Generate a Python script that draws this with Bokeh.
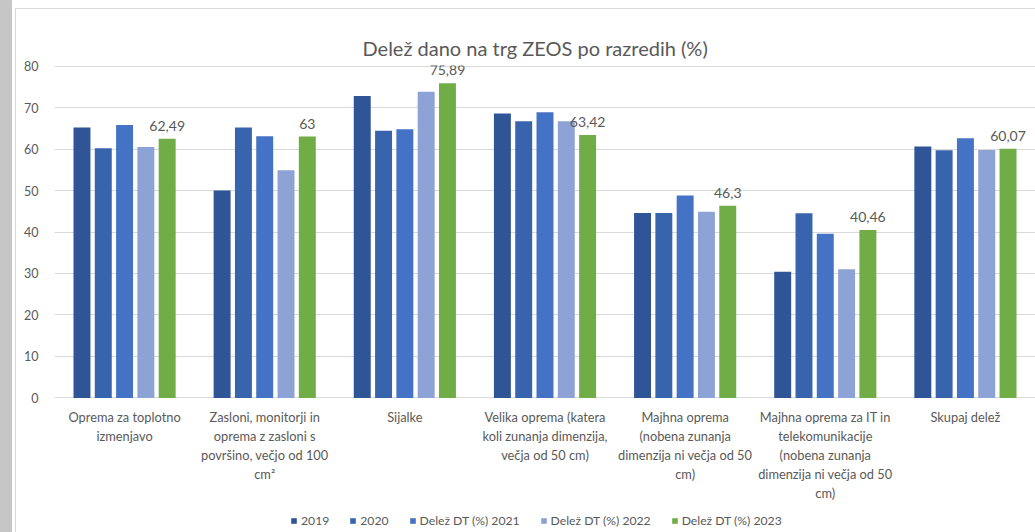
from bokeh.plotting import figure
from bokeh.models import ColumnDataSource, Range1d, FactorRange, LabelSet, Legend, LegendItem, Div, Spacer
from bokeh.layouts import column, row
from bokeh.transform import dodge
from bokeh.core.properties import value
from bokeh.embed import file_html
from bokeh.resources import INLINE

categories = [
    "Oprema za toplotno\nizmenjavo",
    "Zasloni, monitorji in\noprema z zasloni s\npovršino, večjo od 100\ncm²",
    "Sijalke",
    "Velika oprema (katera\nkoli zunanja dimenzija,\nvečja od 50 cm)",
    "Majhna oprema\n(nobena zunanja\ndimenzija ni večja od 50\ncm)",
    "Majhna oprema za IT in\ntelekomunikacije\n(nobena zunanja\ndimenzija ni večja od 50\ncm)",
    "Skupaj delež",
]
series_names = ["2019", "2020", "Delež DT (%) 2021", "Delež DT (%) 2022", "Delež DT (%) 2023"]
v2019 = [65.2, 50.0, 72.8, 68.6, 44.6, 30.4, 60.6]
v2020 = [60.2, 65.2, 64.4, 66.7, 44.6, 44.5, 59.7]
v2021 = [65.8, 63.1, 64.8, 68.9, 48.8, 39.6, 62.6]
v2022 = [60.5, 54.9, 73.8, 66.7, 44.9, 31.0, 59.8]
v2023 = [62.49, 63.0, 75.89, 63.42, 46.3, 40.46, 60.07]
colors = ["#2F5597", "#3864AE", "#4472C4", "#8EA3D5", "#70AD47"]

FONT = "Lato"
GREY = "#595959"

data = dict(cat=categories, v2019=v2019, v2020=v2020, v2021=v2021, v2022=v2022, v2023=v2023,
            lbl=[f"{v:g}".replace(".", ",") for v in v2023])
src = ColumnDataSource(data)

W = 1019
p = figure(width=W, height=501, x_range=FactorRange(factors=categories), y_range=Range1d(-0.15, 80.15),
           output_backend="svg", toolbar_location=None,
           min_border_left=38, min_border_right=0, min_border_top=56, min_border_bottom=112)
p.title.text = "Delež dano na trg ZEOS po razredih (%)"
p.title.align = "left"
p.title.offset = 308
p.title.vertical_align = "middle"
p.title.text_font = FONT
p.title.text_font_size = "20px"
p.title.text_font_style = "normal"
p.title.text_color = GREY
p.title.standoff = 10

pitch = 0.152
width = 0.121
keys = ["v2019", "v2020", "v2021", "v2022", "v2023"]
for i, (k, c) in enumerate(zip(keys, colors)):
    p.vbar(x=dodge("cat", (i - 2) * pitch, range=p.x_range), top=k, width=width, source=src,
           fill_color=c, line_color=None)

labels = LabelSet(x=dodge("cat", 2 * pitch, range=p.x_range), y="v2023", text="lbl", source=src,
                  text_align="center", text_baseline="bottom", y_offset=8,
                  text_font=value(FONT), text_font_size=value("14px"), text_color=value(GREY))
p.add_layout(labels)

p.outline_line_color = None
p.border_fill_color = "white"
p.xgrid.grid_line_color = None
p.ygrid.grid_line_color = "#D9D9D9"
p.ygrid.grid_line_width = 1
p.yaxis.ticker = [0, 10, 20, 30, 40, 50, 60, 70, 80]
p.yaxis.axis_line_color = None
p.yaxis.major_tick_line_color = None
p.yaxis.minor_tick_line_color = None
p.yaxis.major_label_text_font = FONT
p.yaxis.major_label_text_font_size = "12.5px"
p.yaxis.major_label_text_color = GREY
p.yaxis.major_label_standoff = 10

p.xaxis.axis_line_color = None
p.xaxis.major_tick_line_color = None
p.xaxis.major_label_text_font = FONT
p.xaxis.major_label_text_font_size = "12.8px"
p.xaxis.major_label_text_color = GREY
p.xaxis.major_label_standoff = 4

# legend strip (separate small figure so the legend is not clipped)
lp = figure(width=W, height=22, x_range=p.x_range, y_range=Range1d(1000, 1001),
            output_backend="svg", toolbar_location=None,
            min_border_left=0, min_border_right=0, min_border_top=0, min_border_bottom=0)
lp.axis.visible = False
lp.grid.grid_line_color = None
lp.outline_line_color = None
items = []
for i, (k, c, n) in enumerate(zip(keys, colors, series_names)):
    r = lp.vbar(x=dodge("cat", (i - 2) * pitch, range=lp.x_range), top=k, width=width, source=src,
                fill_color=c, line_color=None)
    items.append(LegendItem(label=n, renderers=[r]))
legend = Legend(items=items, orientation="horizontal", location=(236, 4),
                label_text_font=FONT, label_text_font_size="12.2px", label_text_color=GREY,
                glyph_width=7, glyph_height=7, spacing=20, label_standoff=4,
                border_line_color=None, background_fill_alpha=0, padding=0, margin=0)
lp.add_layout(legend)

strip = Div(width=12, height=532, margin=0, styles={"background-color": "#C6C6C6"})
gap = Spacer(width=3, height=532, margin=0)
vline = column(Spacer(width=1, height=8, margin=0),
               Div(width=1, height=524, margin=0, styles={"background-color": "#D9D9D9"}),
               spacing=0, margin=0)
hline = Div(width=W, height=1, margin=0, styles={"background-color": "#D9D9D9"})
chart = column(Spacer(width=W, height=8, margin=0), hline, p, lp, spacing=0, margin=0)
layout = row(strip, gap, vline, chart, spacing=0, margin=0)

open("out.html", "w").write(file_html(layout, INLINE))
